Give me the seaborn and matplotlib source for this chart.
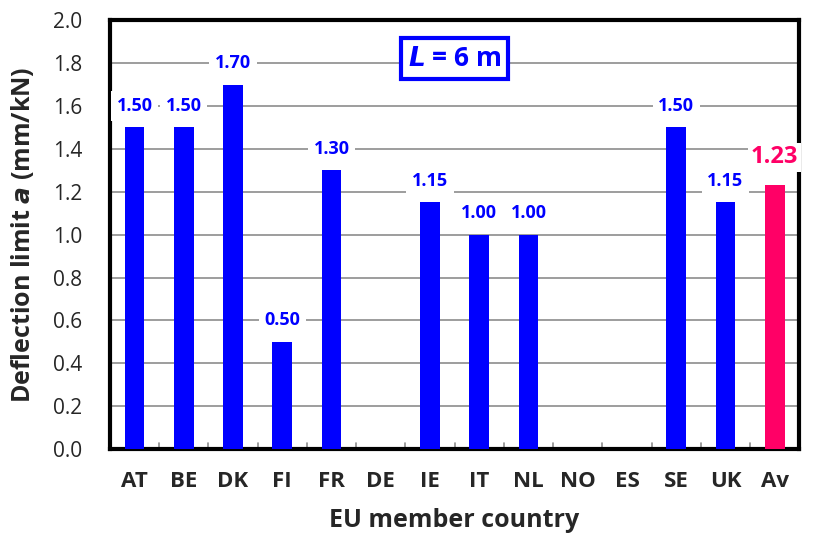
import seaborn as sns
import matplotlib.pyplot as plt
import pandas as pd

countries = ['AT', 'BE', 'DK', 'FI', 'FR', 'DE', 'IE', 'IT', 'NL', 'NO', 'ES', 'SE', 'UK', 'Av']
values = [1.50, 1.50, 1.70, 0.50, 1.30, None, 1.15, 1.00, 1.00, None, None, 1.50, 1.15, 1.23]
yticks = [0.0, 0.2, 0.4, 0.6, 0.8, 1.0, 1.2, 1.4, 1.6, 1.8, 2.0]

sns.set_style('white')
plt.rcParams['font.family'] = ['Open Sans', 'DejaVu Sans']

df = pd.DataFrame({'country': countries, 'a': values})
colors = ['#0000FF'] * (len(countries) - 1) + ['#FF0066']

fig = plt.figure(figsize=(8.14, 5.47), dpi=100)
ax = fig.add_axes([0.135, 0.179, 0.847, 0.784])
sns.barplot(data=df, x='country', y='a', hue='country', palette=colors,
            legend=False, width=0.4, saturation=1, linewidth=0, ax=ax, zorder=3)

ax.set_ylim(0, 2.0)
ax.set_xlim(-0.5, len(countries) - 0.5)
ax.set_yticks(yticks, [f'{t:.1f}' for t in yticks], fontsize=15)
ax.set_xticks(range(len(countries)), countries)
plt.setp(ax.get_xticklabels(), fontsize=16, fontweight='bold')
ax.yaxis.grid(True, color='#8c8c8c', linewidth=1.2, zorder=0)
ax.tick_params(axis='y', length=0, pad=20)
ax.tick_params(axis='x', length=0, pad=16)

# small category separator ticks on the bottom axis
for i in range(len(countries) - 1):
    ax.plot([i + 0.5, i + 0.5], [0, 0.03], color='#8c8c8c', lw=1.2, zorder=2)

for s in ax.spines.values():
    s.set_visible(True)
    s.set_color('black')
    s.set_linewidth(3)

for i, v in enumerate(values):
    if v is None:
        continue
    if countries[i] == 'Av':
        ax.text(i, v + 0.13, f'{v:.2f}', ha='center', va='center', fontsize=17,
                fontweight='bold', color='#FF0066', zorder=4,
                bbox=dict(facecolor='white', edgecolor='none', pad=2))
    else:
        ax.text(i, v + 0.1, f'{v:.2f}', ha='center', va='center', fontsize=13,
                fontweight='bold', color='#0000FF', zorder=4,
                bbox=dict(facecolor='white', edgecolor='none', pad=4))

ax.text(0.5, 0.91, r'$\mathbfit{L}$ = 6 m', transform=ax.transAxes, ha='center', va='center',
        fontsize=19, fontweight='bold', color='#0000FF', zorder=5,
        bbox=dict(facecolor='white', edgecolor='#0000FF', linewidth=3, pad=5))

ax.set_xlabel('EU member country', fontsize=18, fontweight='bold', labelpad=11)
ax.set_ylabel('Deflection limit $\\mathbfit{a}$ (mm/kN)', fontsize=18, fontweight='bold', labelpad=12)

fig.savefig('out.png', dpi=100)
